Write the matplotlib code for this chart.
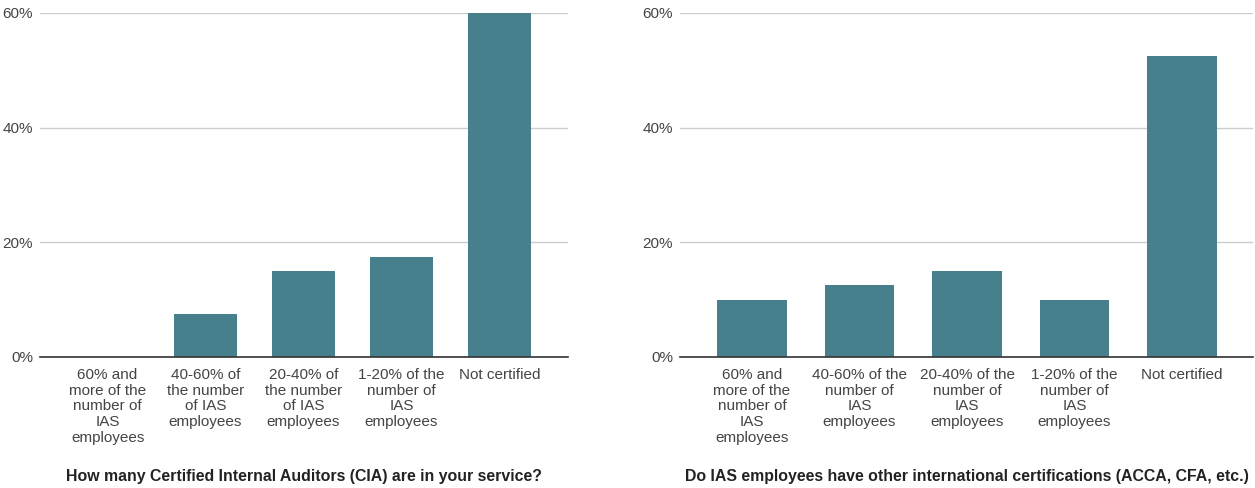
import matplotlib.pyplot as plt
from matplotlib.ticker import FuncFormatter

plt.rcParams['font.family'] = ['Liberation Sans', 'DejaVu Sans']

# survey answers, share of respondents in %
cia_labels = ["60% and\nmore of the\nnumber of\nIAS\nemployees",
              "40-60% of\nthe number\nof IAS\nemployees",
              "20-40% of\nthe number\nof IAS\nemployees",
              "1-20% of the\nnumber of\nIAS\nemployees",
              "Not certified"]
cia_values = [0, 7.5, 15, 17.5, 60]

other_labels = ["60% and\nmore of the\nnumber of\nIAS\nemployees",
                "40-60% of the\nnumber of\nIAS\nemployees",
                "20-40% of the\nnumber of\nIAS\nemployees",
                "1-20% of the\nnumber of\nIAS\nemployees",
                "Not certified"]
other_values = [10, 12.5, 15, 10, 52.5]

cia_title = "How many Certified Internal Auditors (CIA) are in your service?"
other_title = "Do IAS employees have other international certifications (ACCA, CFA, etc.)"

bar_color = '#46808c'

fig = plt.figure(figsize=(12.55, 4.88), dpi=100)
ax1 = fig.add_axes([40/1255, 1-357/488, 528/1255, 344/488])
ax2 = fig.add_axes([680/1255, 1-357/488, 573/1255, 344/488])


def draw(ax, labels, values, title, xlim, width):
    x = range(len(values))
    ax.bar(x, values, width=width, color=bar_color, zorder=3)
    ax.set_ylim(0, 60)
    ax.set_xlim(*xlim)
    ax.set_yticks([0, 20, 40, 60])
    ax.yaxis.set_major_formatter(FuncFormatter(lambda v, p: f"{v:.0f}%"))
    ax.set_xticks(list(x))
    ax.set_xticklabels(labels, linespacing=1.15)
    ax.tick_params(axis='both', length=0, labelsize=11, colors='#444444')
    ax.tick_params(axis='x', pad=8)
    ax.tick_params(axis='y', pad=5)
    ax.grid(axis='y', color='#cccccc', linewidth=1, zorder=0)
    for side in ['top', 'right', 'left']:
        ax.spines[side].set_visible(False)
    ax.spines['bottom'].set_color('#333333')
    ax.spines['bottom'].set_linewidth(1.2)
    ax.spines['bottom'].set_zorder(4)
    pos = ax.get_position()
    fig.text(pos.x0 + pos.width / 2, 1 - 476/488, title, ha='center', va='center',
             fontsize=11.4, fontweight='bold', color='#222222')


draw(ax1, cia_labels, cia_values, cia_title, (-0.69, 4.70), 0.64)
draw(ax2, other_labels, other_values, other_title, (-0.67, 4.66), 0.65)

fig.savefig('out.png', dpi=100)
